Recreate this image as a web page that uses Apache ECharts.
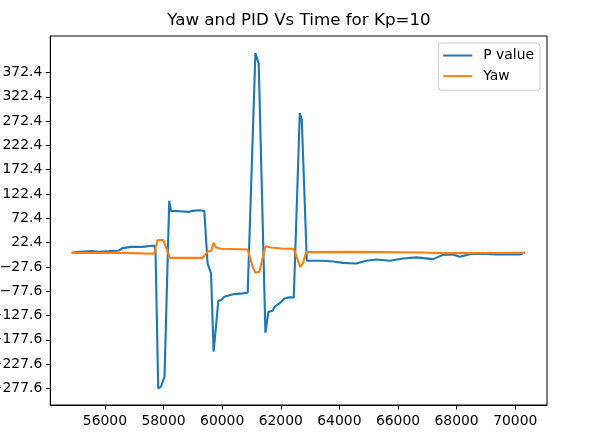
<!DOCTYPE html>
<html>
<head>
<meta charset="utf-8">
<script src="https://cdn.jsdelivr.net/npm/echarts@6/dist/echarts.min.js"></script>
<style>
html,body{margin:0;padding:0;background:#fff;}
#chart{width:596px;height:441px;}
</style>
</head>
<body>
<div id="chart"></div>
<script>
// P value series (time, value)
const pTime = [54868,55118,55573,55802,56144,56485,56598,56885,57282,57682,57726,57819,57911,58034,58195,58253,58537,58879,58991,59221,59391,59504,59621,59709,59768,59870,59962,60075,60188,60417,60701,60872,61135,61248,61477,61579,61726,61785,61956,62127,62297,62444,62650,62718,62889,63436,63778,64120,64578,64920,65262,65716,66171,66629,67197,67538,67880,68109,68451,68793,69364,69819,70160,70331];
const pValue = [1.3,3.4,4.8,3.4,4.8,6.3,11.0,13.6,13.6,16.5,6.9,-277.6,-274.3,-253.7,108.3,87.7,87.1,85.7,87.7,89.1,87.7,-20.5,-41.1,-202.3,-202.3,-97.4,-96.0,-89.2,-87.1,-83.6,-82.2,-80.9,412.7,390.9,-163.2,-120.0,-118.0,-109.8,-102.8,-92.5,-90.4,-90.4,289.3,274.3,-15.1,-15.1,-16.4,-19.3,-20.5,-15.1,-12.3,-15.1,-10.2,-8.1,-11.6,-2.8,-2.0,-6.9,-1.3,-0.7,-2.0,-1.3,-2.0,2.1];
// Yaw series (time, value)
const yawTime = [54868,56598,56656,57682,57795,57990,58082,58219,59333,59504,59621,59709,59791,59962,60872,61043,61135,61272,61477,61672,62014,62444,62663,62752,62868,64578,66855,67426,70331];
const yawValue = [1.3,1.3,-0.7,-0.7,27.5,27.5,13.6,-9.0,-9.0,3.4,5.4,21.9,12.4,9.6,8.3,-27.5,-39.8,-37.8,15.1,12.4,10.4,9.6,-27.5,-20.5,2.8,3.4,2.1,0.7,1.3];
// tick labels
const xTicks = [56000,58000,60000,62000,64000,66000,68000,70000];
const yTicks = [-277.6,-227.6,-177.6,-127.6,-77.6,-27.6,22.4,72.4,122.4,172.4,222.4,272.4,322.4,372.4];
const seriesNames = ['P value','Yaw'];
const titleText = 'Yaw and PID Vs Time for Kp=10';

const pData = pTime.map((t,i)=>[t,pValue[i]]);
const yawData = yawTime.map((t,i)=>[t,yawValue[i]]);

const font = 'DejaVu Sans';
const chart = echarts.init(document.getElementById('chart'), null, {renderer:'canvas'});
chart.setOption({
  animation:false,
  backgroundColor:'#ffffff',
  textStyle:{fontFamily:font},
  title:{
    text:titleText,
    left:299, top:12, textAlign:'center', padding:0,
    textStyle:{fontFamily:font,fontSize:16.7,fontWeight:'normal',color:'#000'}
  },
  legend:{
    data:seriesNames,
    orient:'vertical',
    right:56, top:43,
    padding:[4.5,6,6,5],
    itemGap:4.6,
    itemWidth:29, itemHeight:2,
    icon:'rect',
    backgroundColor:'rgba(255,255,255,0.8)',
    borderColor:'#cccccc', borderWidth:1, borderRadius:3,
    textStyle:{fontFamily:font,fontSize:13.9,color:'#000',lineHeight:16,padding:[0,0,0,6]}
  },
  grid:{
    left:50.3, top:36, right:49, bottom:36,
    show:true, borderColor:'#000', borderWidth:1, containLabel:false,
    outerBoundsMode:'none'
  },
  xAxis:{
    type:'value', min:54137, max:71084,
    splitLine:{show:false},
    axisLine:{show:true,onZero:false,lineStyle:{color:'#000',width:1}},
    axisTick:{show:true,length:4.5,lineStyle:{color:'#000'},customValues:xTicks},
    axisLabel:{show:true,margin:9,color:'#000',fontSize:13.9,fontFamily:font,customValues:xTicks,
      formatter:v=>String(Math.round(v))}
  },
  yAxis:{
    type:'value', min:-311.9, max:447.7,
    splitLine:{show:false},
    axisLine:{show:true,onZero:false,lineStyle:{color:'#000',width:1}},
    axisTick:{show:true,length:4.5,lineStyle:{color:'#000'},customValues:yTicks},
    axisLabel:{show:true,margin:8,color:'#000',fontSize:13.9,fontFamily:font,customValues:yTicks,
      formatter:v=>(v<0?'\u2212':'')+Math.abs(v).toFixed(1)}
  },
  series:[
    {name:seriesNames[0],type:'line',data:pData,showSymbol:false,symbol:'none',
     lineStyle:{color:'#1f77b4',width:2.1},itemStyle:{color:'#1f77b4'},z:2},
    {name:seriesNames[1],type:'line',data:yawData,showSymbol:false,symbol:'none',
     lineStyle:{color:'#ff7f0e',width:2.1},itemStyle:{color:'#ff7f0e'},z:3}
  ]
});
</script>
</body>
</html>
